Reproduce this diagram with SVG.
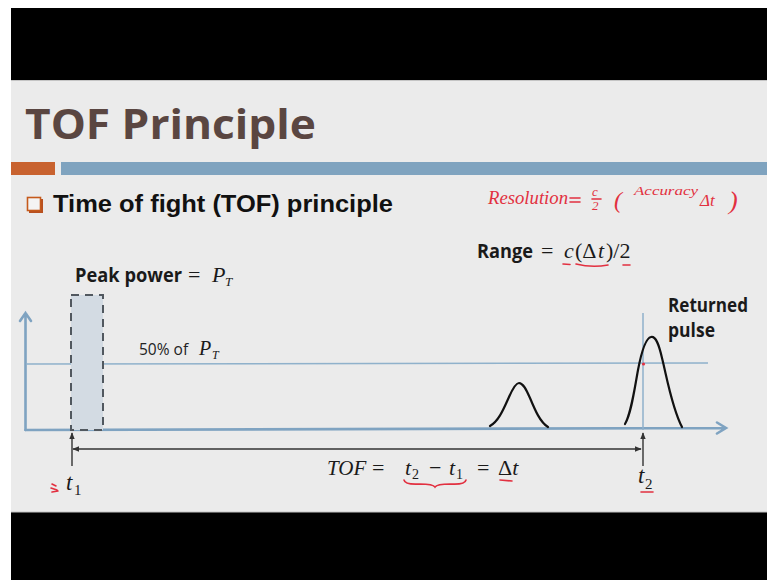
<svg xmlns="http://www.w3.org/2000/svg" width="767" height="580" viewBox="0 0 767 580">
<defs>
<marker id="ah" viewBox="0 0 10 10" refX="9" refY="5" markerWidth="7" markerHeight="7" orient="auto-start-reverse" markerUnits="userSpaceOnUse">
<path d="M0,1 L10,5 L0,9 Z" fill="#333"/>
</marker>
</defs>
<style>
.b{font-family:"Open Sans","Liberation Sans",sans-serif;font-weight:bold;fill:#1a1a1a}
.n{font-family:"Open Sans","Liberation Sans",sans-serif;fill:#222}
.m{font-family:"Liberation Serif","DejaVu Serif",serif;fill:#1a1a1a}
.i{font-style:italic}
.red{font-family:"Liberation Serif",serif;font-style:italic;fill:#e23040}
.hand{fill:none;stroke:#e23040;stroke-width:1.6;stroke-linecap:round}
.axis{fill:none;stroke:#7fa3c1;stroke-width:2.6;stroke-linecap:round}
.thin{fill:none;stroke:#8fb1cb;stroke-width:1.5}
.pulse{fill:none;stroke:#111;stroke-width:2.2;stroke-linecap:round}
.dim{fill:none;stroke:#333;stroke-width:1.4}
</style>
<rect width="767" height="580" fill="#ffffff"/>
<rect x="11" y="8" width="756" height="72" fill="#000"/>
<rect x="11" y="80" width="756" height="432" fill="#ebebeb"/>
<line x1="11" y1="80.5" x2="767" y2="80.5" stroke="#c4c4c4"/>
<rect x="11" y="512" width="756" height="68" fill="#000"/>
<line x1="11" y1="512" x2="767" y2="512" stroke="#c4c4c4"/>

<g id="title">
<text x="25" y="139" font-family="'Open Sans','Liberation Sans',sans-serif" font-weight="bold" font-size="41" fill="#5a4641" textLength="291" lengthAdjust="spacingAndGlyphs">TOF Principle</text>
<rect x="11" y="162" width="44" height="13" fill="#c8622f"/>
<rect x="61" y="162" width="706" height="13" fill="#7fa3bf"/>
</g>

<g id="bullet">
<rect x="29" y="199" width="14" height="14" fill="#b85020"/>
<rect x="27.5" y="197.5" width="13" height="13" fill="#f4f4f4" stroke="#c55a1c" stroke-width="1.6"/>
<text x="53" y="212" font-family="'Liberation Sans',Arial,sans-serif" font-weight="bold" font-size="23" fill="#111" textLength="340" lengthAdjust="spacingAndGlyphs">Time of fight (TOF) principle</text>
</g>

<g id="resolution-note">
<text x="488" y="204" class="red" font-size="18" textLength="80" lengthAdjust="spacingAndGlyphs">Resolution</text>
<path class="hand" d="M570,198 L580,198 M570,202 L580,202 M592,199 L601,199"/>
<text x="592" y="196" class="red" font-size="13">c</text>
<text x="592" y="210" class="red" font-size="13">2</text>
<text x="614" y="208" class="red" font-size="24">(</text>
<text x="634" y="195" class="red" font-size="12" textLength="64" lengthAdjust="spacingAndGlyphs">Accuracy</text>
<text x="700" y="206" class="red" font-size="17">Δt</text>
<text x="729" y="209" class="red" font-size="26">)</text>
</g>

<g id="range">
<text x="477" y="258" class="b" font-size="19" textLength="56" lengthAdjust="spacingAndGlyphs">Range</text>
<text y="258" class="m" font-size="22"><tspan x="541">=</tspan><tspan x="564" class="i">c</tspan><tspan x="575">(Δ</tspan><tspan x="598" class="i">t</tspan><tspan x="606">)/2</tspan></text>
<path class="hand" d="M563,264 L570,264.5 M576,264 Q592,268 608,265 M623,265 L630,265"/>
</g>

<g id="peak-label">
<text x="75" y="282" class="b" font-size="19" textLength="107" lengthAdjust="spacingAndGlyphs">Peak power</text>
<text x="188" y="282" class="m" font-size="22">=</text>
<text x="212" y="282" class="m i" font-size="22">P</text>
<text x="225" y="286" class="m i" font-size="13">T</text>
</g>

<g id="axes">
<path class="axis" d="M25.5,430 L25.5,313 M20,321 L25.5,313 L31,321"/>
<path class="axis" d="M25.5,430 L726,428 M717,422.5 L726,428 L717,433.5"/>
<line class="thin" x1="26" y1="364" x2="708" y2="363"/>
<line class="thin" x1="643" y1="313" x2="643" y2="430"/>
</g>

<g id="fifty-label">
<text x="139" y="355" class="n" font-size="15.5">50% of</text>
<text x="199" y="355" class="m i" font-size="20">P</text>
<text x="212" y="359" class="m i" font-size="12">T</text>
</g>

<g id="transmitted-pulse">
<rect x="71" y="295" width="32" height="135" fill="#d3dbe3" stroke="#51585f" stroke-width="2" stroke-dasharray="8,6"/>
</g>

<g id="echo-pulse">
<path class="pulse" d="M490,426 C499,421 504,408 509,397 C513,388 516,383 519,383 C523,383 526,389 530,398 C535,410 540,422 548,427"/>
</g>

<g id="returned-pulse">
<path class="pulse" d="M625,424 C631,414 634,392 638,370 C642,349 646,338 651,337 C656,336 659,345 662,358 C667,378 672,408 682,427"/>
<circle cx="643.5" cy="364" r="1.6" fill="#e23040"/>
<text x="668" y="312" class="b" font-size="19" textLength="80" lengthAdjust="spacingAndGlyphs">Returned</text>
<text x="668" y="337" class="b" font-size="19" textLength="47" lengthAdjust="spacingAndGlyphs">pulse</text>
</g>

<g id="connectors">
<line class="dim" x1="72" y1="466" x2="72" y2="433" marker-end="url(#ah)"/>
<line class="dim" x1="643" y1="466" x2="643" y2="433" marker-end="url(#ah)"/>
<line class="dim" x1="73" y1="449" x2="641" y2="449" marker-start="url(#ah)" marker-end="url(#ah)"/>
</g>

<g id="tof-label">
<text y="475" class="m" font-size="22"><tspan x="327" class="i" font-size="21">TOF</tspan><tspan x="372">=</tspan><tspan x="405" class="i">t</tspan><tspan x="412" dy="4" font-size="14">2</tspan><tspan x="429" dy="-4">−</tspan><tspan x="449" class="i">t</tspan><tspan x="456" dy="4" font-size="14">1</tspan><tspan x="477" dy="-4">=</tspan><tspan x="498">Δ</tspan><tspan class="i">t</tspan></text>
<path class="hand" d="M404,480 Q405,485 420,484 Q433,484 435,487 Q437,484 450,484 Q465,485 466,480 M500,480 L512,481"/>
</g>

<g id="t1-label">
<text x="66" y="490" class="m i" font-size="23">t<tspan x="74" dy="5" font-size="15" font-style="normal">1</tspan></text>
<path class="hand" d="M52,484 L56,486 M51,488 L57,490 M52,492 L58,491"/>
</g>

<g id="t2-label">
<text x="638" y="483" class="m i" font-size="23">t<tspan x="645" dy="6" font-size="15" font-style="normal">2</tspan></text>
<path class="hand" d="M641,492 L653,492"/>
</g>
</svg>
